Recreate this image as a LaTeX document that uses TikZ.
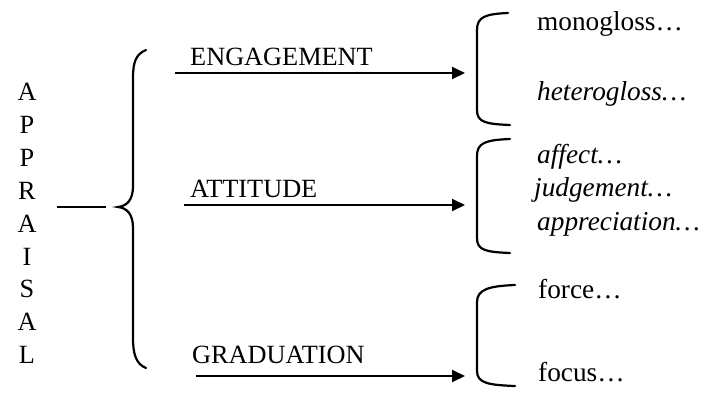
\documentclass[tikz,border=0pt]{standalone}
\usepackage{fontspec}
\setmainfont{Liberation Serif}
\usetikzlibrary{arrows.meta}
\begin{document}
\begin{tikzpicture}[x=1pt,y=-1pt,
  lbl/.style={anchor=base west,inner sep=0pt,font=\fontsize{26.3}{30}\selectfont},
  rlbl/.style={anchor=base west,inner sep=0pt,font=\fontsize{27.3}{31}\selectfont},
  letter/.style={anchor=base,inner sep=0pt,font=\fontsize{26.3}{30}\selectfont},
  line/.style={line width=2pt},
  arr/.style={line width=2pt,-{Triangle[length=13pt,width=12pt]}},
  brk/.style={line width=2.2pt,line cap=round}]
\useasboundingbox (0,0) rectangle (710,400);
% APPRAISAL column
\foreach \l [count=\i from 0] in {A,P,P,R,A,I,S,A,L}
  \node[letter] (L\i) at (27,{100.5+32.9*\i}) {\l};
\coordinate (h1) at (57,207);
\coordinate (h2) at (106,207);
\draw[line] (h1) -- (h2);
% big brace
\coordinate (bt) at (146,50);
\coordinate (bb) at (146,368);
\coordinate (btip) at (118,207);
\draw[brk] (bt) .. controls (136,54) and (133,62) .. (133,78)
  -- (133,186) .. controls (133,200) and (127,206) .. (btip)
  .. controls (127,208) and (133,214) .. (133,228)
  -- (133,338) .. controls (133,354) and (136,364) .. (bb);
% labels
\node[lbl] (eng) at (190,65) {ENGAGEMENT};
\node[lbl] (att) at (190,197) {ATTITUDE};
\node[lbl] (gra) at (192,363) {GRADUATION};
% arrows
\coordinate (a1s) at (175,73); \coordinate (a1e) at (465,73);
\coordinate (a2s) at (184,205); \coordinate (a2e) at (465,205);
\coordinate (a3s) at (196,376); \coordinate (a3e) at (465,376);
\draw[arr] (a1s) -- (a1e);
\draw[arr] (a2s) -- (a2e);
\draw[arr] (a3s) -- (a3e);
% right brackets
\coordinate (r1t) at (508,13); \coordinate (r1b) at (510,125);
\coordinate (r2t) at (510,139); \coordinate (r2b) at (510,253);
\coordinate (r3t) at (515,285); \coordinate (r3b) at (515,386);
\draw[brk] (r1t) .. controls (485,14) and (477,17) .. (477,30) -- (477,110)
  .. controls (477,122) and (485,124) .. (r1b);
\draw[brk] (r2t) .. controls (485,140) and (477,143) .. (477,156) -- (477,238)
  .. controls (477,250) and (485,252) .. (r2b);
\draw[brk] (r3t) .. controls (490,286) and (477,289) .. (477,302) -- (477,371)
  .. controls (477,383) and (488,385) .. (r3b);
% right texts
\node[rlbl] (mono) at (537,30) {monogloss…};
\node[rlbl] (hetero) at (537,100) {\itshape heterogloss…};
\node[rlbl] (affect) at (537,163) {\itshape affect…};
\node[rlbl] (judg) at (534,196) {\itshape judgement…};
\node[rlbl] (appr) at (537,230) {\itshape appreciation…};
\node[rlbl] (force) at (538,298) {force…};
\node[rlbl] (focus) at (538,381) {focus…};
\end{tikzpicture}
\end{document}
